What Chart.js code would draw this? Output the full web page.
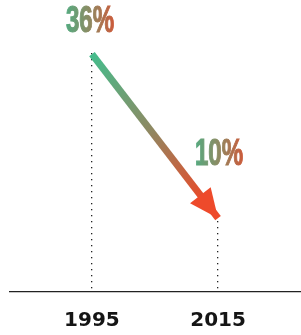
<!DOCTYPE html>
<html>
<head>
<meta charset="utf-8">
<script src="https://cdn.jsdelivr.net/npm/chart.js@4"></script>
<style>
  html, body { margin: 0; padding: 0; background: #fff; }
  #wrap { width: 301px; height: 335px; }
</style>
</head>
<body>
<div id="wrap"><canvas id="c"></canvas></div>
<script>
var years = [1995, 2015];
var shares = [36, 10];
var shareLabels = ["36%", "10%"];

var green = "#4cb685";
var red = "#ee4a2b";

// dotted drop lines, the arrow head and the % labels
var arrowPlugin = {
  id: "arrow",
  beforeDatasetsDraw(chart) {
    var ctx = chart.ctx;
    var pts = chart.getDatasetMeta(0).data;
    var bottom = chart.chartArea.bottom;
    ctx.save();
    ctx.fillStyle = "#222";
    pts.forEach(function (p, i) {
      var y = p.y + (i == 0 ? -1 : 3);
      for (; y < bottom - 1; y += 6) {
        ctx.fillRect(Math.round(p.x) - 1, Math.round(y), 1.3, 1.3);
      }
    });
    ctx.restore();
  },
  afterDatasetsDraw(chart) {
    var ctx = chart.ctx;
    var pts = chart.getDatasetMeta(0).data;
    var a = pts[0], b = pts[1];
    var ang = Math.atan2(b.y - a.y, b.x - a.x);
    var len = 29, half = 13;
    var bx = b.x - len * Math.cos(ang), by = b.y - len * Math.sin(ang);
    ctx.save();
    ctx.fillStyle = red;
    ctx.beginPath();
    ctx.moveTo(b.x, b.y);
    ctx.lineTo(bx + half * Math.sin(ang), by - half * Math.cos(ang));
    ctx.lineTo(bx - half * Math.sin(ang), by + half * Math.cos(ang));
    ctx.closePath();
    ctx.fill();

    // labels
    var offs = [22, 53];
    var sx = 0.65;
    ctx.font = "bold 37px 'Liberation Sans'";
    ctx.textAlign = "center";
    ctx.textBaseline = "alphabetic";
    pts.forEach(function (p, i) {
      var cx = p.x - (i == 0 ? 2 : -1);
      var w = ctx.measureText(shareLabels[i]).width;
      var g = ctx.createLinearGradient(-w / 2, 0, w / 2, 0);
      g.addColorStop(0, "#55aa80");
      g.addColorStop(0.5, "#8e8a62");
      g.addColorStop(1, "#cc5a3a");
      ctx.save();
      ctx.translate(cx, p.y - offs[i]);
      ctx.scale(sx, 1);
      ctx.fillStyle = g;
      ctx.strokeStyle = g;
      ctx.lineWidth = 1.2;
      ctx.fillText(shareLabels[i], 0, 0);
      ctx.strokeText(shareLabels[i], 0, 0);
      ctx.restore();
    });
    ctx.restore();
  }
};

new Chart(document.getElementById("c"), {
  type: "line",
  data: {
    datasets: [{
      data: years.map(function (y, i) { return { x: y, y: shares[i] }; }),
      borderWidth: 7,
      borderCapStyle: "butt",
      pointRadius: 0,
      borderColor: function (c) {
        var ch = c.chart;
        var sx = ch.scales.x, sy = ch.scales.y;
        if (!ch.chartArea || !sx || !sy) return green;
        var x0 = sx.getPixelForValue(years[0]), y0 = sy.getPixelForValue(shares[0]);
        var x1 = sx.getPixelForValue(years[1]), y1 = sy.getPixelForValue(shares[1]);
        if (![x0, y0, x1, y1].every(isFinite)) return green;
        var g = ch.ctx.createLinearGradient(x0, y0, x1, y1);
        g.addColorStop(0, "#45bc8c");
        g.addColorStop(0.45, "#8c8a63");
        g.addColorStop(0.85, "#e24f2e");
        g.addColorStop(1, red);
        return g;
      }
    }]
  },
  options: {
    responsive: true,
    maintainAspectRatio: false,
    animation: false,
    layout: { padding: { left: 10, right: 1, top: 0, bottom: 0 } },
    plugins: { legend: { display: false }, tooltip: { enabled: false } },
    scales: {
      x: {
        type: "linear",
        min: 1982,
        max: 2028,
        afterBuildTicks: function (s) { s.ticks = years.map(function (v) { return { value: v }; }); },
        afterFit: function (s) { s.height = 43; },
        grid: { display: false, drawTicks: false },
        border: { display: true, color: "#222", width: 1.2 },
        ticks: {
          autoSkip: false,
          maxRotation: 0,
          padding: 17,
          color: "#151515",
          font: { family: "'DejaVu Sans'", weight: "bold", size: 20 },
          callback: function (v) { return String(v); }
        }
      },
      y: {
        display: false,
        min: -1.7,
        max: 44.6
      }
    }
  },
  plugins: [arrowPlugin]
});
</script>
</body>
</html>
